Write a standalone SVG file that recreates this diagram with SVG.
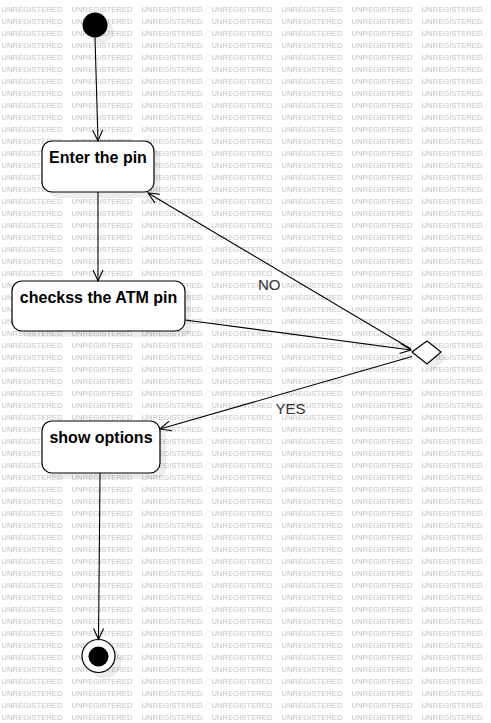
<svg xmlns="http://www.w3.org/2000/svg" width="491" height="723" viewBox="0 0 491 723">
<style>
.box{fill:#fff;stroke:#000;stroke-width:1.2}
.shadow{fill:#000;fill-opacity:0.07}
.lbl{font-family:"Liberation Sans",Arial,sans-serif;font-size:16px;font-weight:bold;fill:#000;text-anchor:middle}
.guard{font-family:"Liberation Sans",Arial,sans-serif;font-size:15px;fill:#333}
.edge{fill:none;stroke:#000;stroke-width:1.1;marker-end:url(#arr)}
</style>
<defs>
<pattern id="wm" width="70" height="12" patternUnits="userSpaceOnUse" x="0" y="0">
<text x="1.5" y="11.7" font-family="Liberation Sans, Arial, sans-serif" font-size="7.8" fill="#c2c2c2" textLength="61" lengthAdjust="spacingAndGlyphs">UNREGISTERED</text>
</pattern>
<marker id="arr" viewBox="-12 -7 14 14" refX="0" refY="0" markerWidth="14" markerHeight="14" markerUnits="userSpaceOnUse" orient="auto">
<path d="M-11,-5 L0,0 L-11,5" fill="none" stroke="#000" stroke-width="1.1"/>
</marker>
</defs>
<rect width="491" height="723" fill="#fff"/>
<rect width="491" height="723" fill="url(#wm)"/>

<g id="start">
<circle class="shadow" cx="101" cy="31" r="12.5"/>
<circle cx="95" cy="25" r="12.5" fill="#000"/>
</g>
<g id="enter">
<rect class="shadow" x="48" y="147" width="112" height="51" rx="10"/>
<rect class="box" x="42" y="141" width="112" height="51" rx="10"/>
<text class="lbl" x="98" y="163">Enter the pin</text>
</g>
<g id="check">
<rect class="shadow" x="18" y="287" width="173" height="50" rx="10"/>
<rect class="box" x="12" y="281" width="173" height="50" rx="10"/>
<text class="lbl" x="98.5" y="303">checkss the ATM pin</text>
</g>
<g id="decision">
<path class="shadow" d="M418,358 L433,347 L447,358 L433,370 Z"/>
<path d="M412,352 L427,341 L441,352 L427,364 Z" fill="#fff" stroke="#000" stroke-width="1.2"/>
</g>
<g id="show">
<rect class="shadow" x="48" y="427" width="118" height="52" rx="10"/>
<rect class="box" x="42" y="421" width="118" height="52" rx="10"/>
<text class="lbl" x="101" y="443">show options</text>
</g>
<g id="end">
<circle class="shadow" cx="104.5" cy="662" r="16.5"/>
<circle cx="98.5" cy="656" r="16.5" fill="#fff" stroke="#000" stroke-width="1.2"/>
<circle cx="98.5" cy="656.5" r="10" fill="#000"/>
</g>

<g id="connectors">
<path class="edge" d="M95,37.5 L98,141"/>
<path class="edge" d="M98,192 L98,281"/>
<path class="edge" d="M185,320 L411,350"/>
<path class="edge" d="M411,349 L148,193"/>
<path class="edge" d="M412,356.5 L160,429"/>
<path class="edge" d="M100,473 L98.5,639.5"/>
<text class="guard" x="258" y="290">NO</text>
<text class="guard" x="275.5" y="414">YES</text>
</g>
</svg>
